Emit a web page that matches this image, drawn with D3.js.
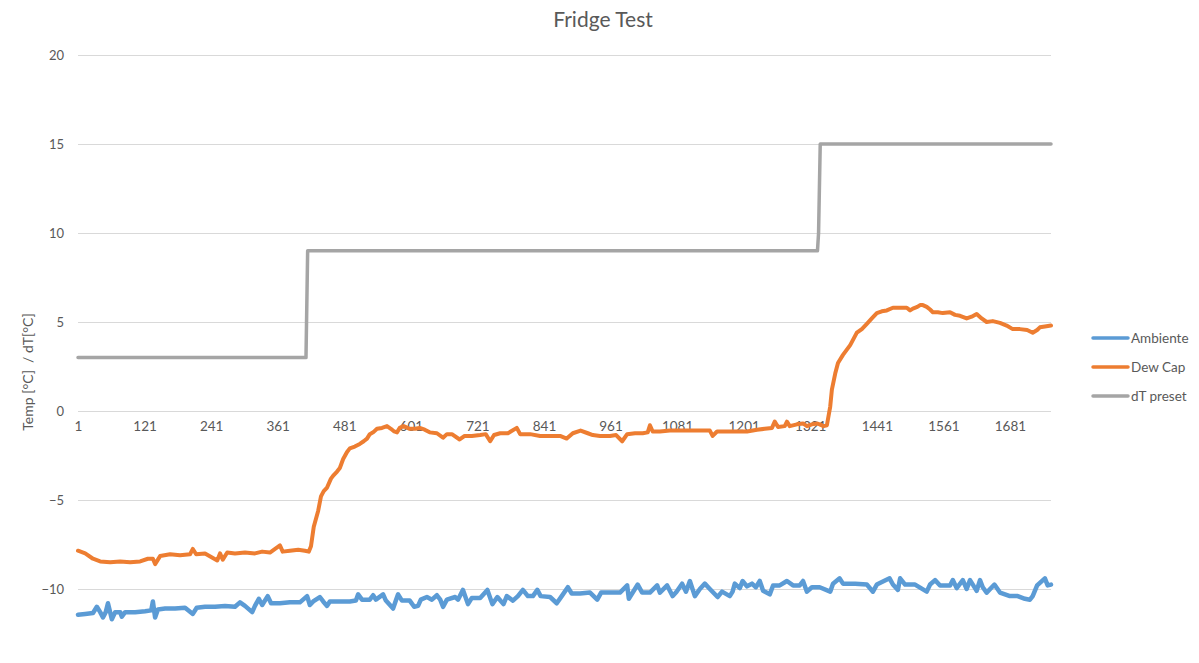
<!DOCTYPE html>
<html>
<head>
<meta charset="utf-8">
<script src="https://cdn.jsdelivr.net/npm/d3@7"></script>
<style>
  html, body { margin: 0; padding: 0; background: #fff; overflow: hidden; }
  svg { display: block; font-family: Lato, "Open Sans", sans-serif; }
</style>
</head>
<body>
<svg id="chart" width="1199" height="663"></svg>
<script>
// ---- data ----
const chartTitle = "Fridge Test";
const yAxisTitle = "Temp [°C]  / dT[°C]";
const categoryCount = 1755;
const xTickLabels = [1, 121, 241, 361, 481, 601, 721, 841, 961, 1081, 1201, 1321, 1441, 1561, 1681];
const yTickValues = [-10, -5, 0, 5, 10, 15, 20];
const seriesNames = ["Ambiente", "Dew Cap", "dT preset"];

// [category, value] samples
const ambiente = [
[1,-11.45],[14,-11.4],[28,-11.35],[35,-11.0],[41,-11.3],[46,-11.6],[51,-11.3],[55,-10.8],[62,-11.7],[68,-11.3],
[77,-11.3],[80,-11.55],[86,-11.3],[104,-11.3],[122,-11.25],[133,-11.2],[136,-10.7],[140,-11.6],[145,-11.15],[158,-11.1],
[176,-11.1],[194,-11.05],[208,-11.4],[215,-11.05],[230,-11.0],[248,-11.0],[266,-10.95],[284,-11.0],[293,-10.75],[302,-10.95],
[315,-11.3],[320,-10.95],[327,-10.55],[333,-10.9],[343,-10.4],[349,-10.8],[365,-10.8],[383,-10.75],[401,-10.75],[414,-10.4],
[419,-10.9],[425,-10.7],[437,-10.45],[443,-10.7],[450,-10.95],[455,-10.7],[473,-10.7],[491,-10.7],[502,-10.65],[506,-10.3],
[513,-10.6],[527,-10.6],[533,-10.35],[538,-10.6],[551,-10.3],[556,-10.65],[569,-11.1],[574,-10.65],[578,-10.3],[585,-10.65],
[599,-10.65],[607,-11.0],[614,-10.95],[619,-10.6],[630,-10.45],[639,-10.6],[648,-10.35],[654,-10.6],[659,-11.0],[666,-10.6],
[681,-10.45],[686,-10.6],[695,-10.05],[704,-10.85],[711,-10.5],[726,-10.5],[739,-10.05],[748,-10.85],[757,-10.45],[768,-10.85],
[774,-10.4],[785,-10.65],[794,-10.4],[803,-10.05],[812,-10.4],[821,-10.4],[829,-10.05],[835,-10.4],[852,-10.45],[864,-10.8],
[873,-10.4],[884,-9.9],[891,-10.25],[906,-10.25],[924,-10.2],[937,-10.6],[944,-10.2],[960,-10.2],[978,-10.2],[991,-9.8],
[994,-10.55],[1001,-10.2],[1010,-9.75],[1018,-10.2],[1032,-10.2],[1045,-9.8],[1050,-10.2],[1063,-9.8],[1073,-10.4],[1080,-10.15],
[1090,-9.7],[1097,-10.15],[1104,-9.55],[1113,-10.4],[1122,-10.0],[1131,-9.7],[1140,-10.0],[1154,-10.45],[1162,-10.15],[1176,-10.4],
[1181,-10.15],[1185,-9.7],[1194,-9.95],[1199,-9.55],[1207,-9.85],[1216,-9.7],[1223,-9.9],[1230,-9.55],[1236,-10.1],[1248,-10.3],
[1254,-9.8],[1266,-9.8],[1279,-9.55],[1290,-9.8],[1302,-9.8],[1308,-9.55],[1315,-10.15],[1324,-9.9],[1338,-9.9],[1357,-10.15],
[1362,-9.7],[1374,-9.4],[1380,-9.7],[1402,-9.7],[1423,-9.75],[1434,-10.15],[1441,-9.75],[1464,-9.4],[1470,-9.75],[1479,-10.05],
[1483,-9.4],[1492,-9.75],[1510,-9.75],[1531,-10.15],[1537,-9.75],[1546,-9.5],[1555,-9.8],[1573,-9.8],[1578,-9.5],[1585,-9.95],
[1596,-9.5],[1603,-10.0],[1609,-9.5],[1618,-9.95],[1621,-10.1],[1627,-9.5],[1632,-9.9],[1639,-10.2],[1653,-9.75],[1663,-10.2],
[1681,-10.4],[1695,-10.4],[1708,-10.55],[1717,-10.6],[1722,-10.4],[1730,-9.8],[1744,-9.4],[1749,-9.8],[1755,-9.75]
];

const dewCap = [
[1,-7.85],[14,-8.0],[28,-8.3],[41,-8.45],[59,-8.5],[77,-8.45],[95,-8.5],[113,-8.45],[127,-8.3],[136,-8.3],
[140,-8.6],[149,-8.15],[167,-8.05],[185,-8.1],[203,-8.05],[208,-7.75],[214,-8.05],[230,-8.0],[252,-8.4],[257,-8.0],
[262,-8.35],[270,-7.95],[284,-8.0],[302,-7.95],[320,-8.0],[333,-7.9],[347,-7.95],[365,-7.55],[370,-7.9],[383,-7.85],
[398,-7.8],[410,-7.85],[417,-7.9],[421,-7.6],[426,-6.5],[434,-5.6],[439,-4.8],[444,-4.5],[450,-4.3],[457,-3.8],
[462,-3.6],[468,-3.4],[473,-3.2],[479,-2.7],[486,-2.3],[491,-2.1],[500,-2.0],[509,-1.85],[516,-1.7],[522,-1.55],
[527,-1.3],[533,-1.2],[540,-1.0],[549,-0.95],[558,-0.85],[565,-1.0],[571,-1.15],[576,-1.2],[581,-0.95],[588,-0.85],
[599,-1.0],[608,-1.0],[617,-0.95],[626,-1.05],[635,-1.2],[648,-1.25],[659,-1.5],[666,-1.3],[675,-1.3],[689,-1.6],
[698,-1.4],[711,-1.4],[726,-1.35],[736,-1.3],[744,-1.7],[751,-1.35],[762,-1.25],[776,-1.25],[792,-0.95],[798,-1.3],
[816,-1.3],[834,-1.4],[852,-1.4],[870,-1.4],[882,-1.55],[893,-1.25],[907,-1.1],[920,-1.25],[929,-1.35],[942,-1.4],
[960,-1.4],[971,-1.35],[982,-1.7],[991,-1.3],[1005,-1.25],[1019,-1.25],[1028,-1.2],[1032,-0.8],[1037,-1.15],[1050,-1.15],
[1068,-1.1],[1086,-1.1],[1104,-1.1],[1122,-1.1],[1140,-1.1],[1145,-1.4],[1153,-1.15],[1171,-1.15],[1189,-1.15],[1207,-1.15],
[1225,-1.05],[1239,-1.0],[1252,-0.95],[1257,-0.6],[1263,-0.9],[1275,-0.85],[1279,-0.6],[1284,-0.85],[1297,-0.75],[1308,-0.7],
[1315,-0.85],[1324,-0.75],[1333,-0.7],[1338,-0.75],[1345,-0.85],[1351,-0.8],[1357,0.25],[1360,1.2],[1366,2.1],[1371,2.7],
[1380,3.15],[1393,3.7],[1405,4.4],[1414,4.6],[1423,4.9],[1432,5.2],[1441,5.5],[1450,5.6],[1459,5.65],[1470,5.8],
[1483,5.8],[1495,5.8],[1501,5.65],[1506,5.75],[1514,5.85],[1519,5.95],[1524,5.95],[1531,5.85],[1537,5.7],[1542,5.55],
[1551,5.55],[1560,5.5],[1573,5.55],[1582,5.4],[1591,5.35],[1603,5.2],[1612,5.3],[1621,5.45],[1630,5.2],[1639,5.0],
[1650,5.05],[1663,4.95],[1675,4.8],[1686,4.6],[1699,4.6],[1712,4.55],[1722,4.4],[1730,4.55],[1735,4.7],[1744,4.75],[1755,4.8]
];

const dtPreset = [[1,3],[412,3],[415,9],[1334,9],[1336,10],[1339,15],[1755,15]];

const seriesColors = ["#5B9BD5", "#ED7D31", "#A5A5A5"];
const seriesWidths = [4.5, 4, 3.5];

// ---- drawing ----
const svg = d3.select("#chart");
const plot = { left: 78, right: 1051, top: 55, bottom: 678 };

const x = d3.scaleLinear().domain([1, categoryCount]).range([plot.left, plot.right]);
const y = d3.scaleLinear().domain([-15, 20]).range([plot.bottom, plot.top]);

const textColor = "#595959";
const gridColor = "#D9D9D9";

// gridlines
svg.append("g")
  .selectAll("line")
  .data(yTickValues)
  .join("line")
  .attr("x1", plot.left).attr("x2", plot.right)
  .attr("y1", d => Math.round(y(d)) + 0.5).attr("y2", d => Math.round(y(d)) + 0.5)
  .attr("stroke", gridColor).attr("stroke-width", 1);

// y axis labels
const yAxis = d3.axisLeft(y).tickValues(yTickValues).tickSize(0).tickPadding(14).tickFormat(d3.format("d"));
const gy = svg.append("g").attr("transform", `translate(${plot.left},0)`).call(yAxis);
gy.select(".domain").remove();
gy.selectAll("text").attr("fill", textColor).style("font-size", "13px").style("font-family", "Lato, sans-serif");

// x axis (crosses at 0)
const xAxis = d3.axisBottom(x).tickValues(xTickLabels).tickSize(0).tickPadding(10).tickFormat(d3.format("d"));
const gx = svg.append("g").attr("transform", `translate(0,${Math.round(y(0)) + 0.5})`).call(xAxis);
gx.select(".domain").attr("stroke", gridColor).attr("d", `M${plot.left},0H${plot.right}`);
gx.selectAll("text").attr("fill", textColor).style("font-size", "13.5px").style("font-family", "Lato, sans-serif");

// series lines
const line = d3.line().x(d => x(d[0])).y(d => y(d[1]));
const seriesData = [ambiente, dewCap, dtPreset];
const drawOrder = [2, 1, 0];
drawOrder.forEach(i => {
  svg.append("path")
    .datum(seriesData[i])
    .attr("d", line)
    .attr("fill", "none")
    .attr("stroke", seriesColors[i])
    .attr("stroke-width", seriesWidths[i])
    .attr("stroke-linejoin", "round")
    .attr("stroke-linecap", "round");
});

// title
svg.append("text")
  .attr("x", 603).attr("y", 27)
  .attr("text-anchor", "middle")
  .attr("fill", textColor)
  .style("font-size", "21px")
  .text(chartTitle);

// y axis title
svg.append("text")
  .attr("transform", "translate(33,372) rotate(-90)")
  .attr("text-anchor", "middle")
  .attr("fill", textColor)
  .style("font-size", "14px")
  .style("white-space", "pre")
  .text(yAxisTitle);

// legend
const legend = svg.append("g").attr("transform", "translate(1093,338)");
const items = legend.selectAll("g").data(seriesNames).join("g")
  .attr("transform", (d, i) => `translate(0,${i * 29})`);
items.append("line")
  .attr("x1", 0).attr("x2", 35).attr("y1", 0).attr("y2", 0)
  .attr("stroke", (d, i) => seriesColors[i]).attr("stroke-width", 3.5)
  .attr("stroke-linecap", "round");
items.append("text")
  .attr("x", 38).attr("y", 5)
  .attr("fill", textColor)
  .style("font-size", "13.5px")
  .text(d => d);
</script>
</body>
</html>
